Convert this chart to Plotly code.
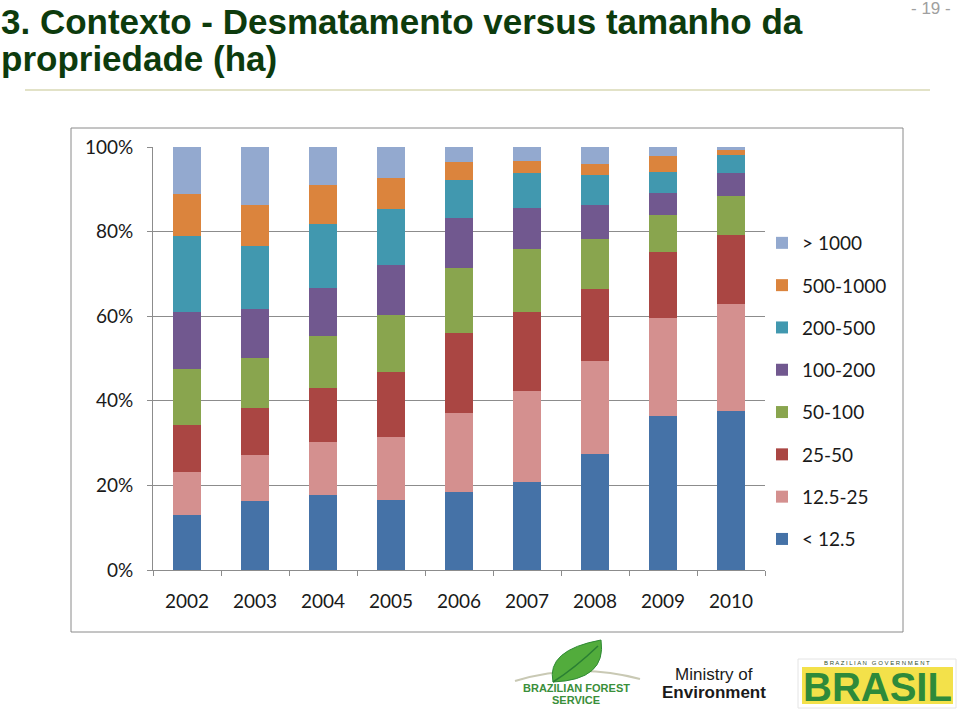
import plotly.graph_objects as go

years = ["2002", "2003", "2004", "2005", "2006", "2007", "2008", "2009", "2010"]
classes = ["< 12.5", "12.5-25", "25-50", "50-100", "100-200", "200-500", "500-1000", "> 1000"]

lt_12_5 = [13.0, 16.2, 17.7, 16.6, 18.5, 20.8, 27.4, 36.4, 37.5]
c12_5_25 = [10.1, 11.1, 12.6, 14.9, 18.7, 21.4, 22.0, 23.1, 25.5]
c25_50 = [11.2, 11.1, 12.8, 15.3, 18.8, 18.8, 17.0, 15.6, 16.1]
c50_100 = [13.3, 11.8, 12.3, 13.5, 15.5, 14.9, 11.8, 8.9, 9.2]
c100_200 = [13.5, 11.6, 11.3, 11.8, 11.6, 9.7, 8.2, 5.2, 5.5]
c200_500 = [17.9, 14.9, 15.0, 13.2, 9.2, 8.2, 7.1, 5.0, 4.3]
c500_1000 = [9.9, 9.7, 9.2, 7.3, 4.2, 2.8, 2.6, 3.7, 1.3]
gt_1000 = [11.1, 13.6, 9.1, 7.4, 3.5, 3.4, 3.9, 2.1, 0.6]

series = [lt_12_5, c12_5_25, c25_50, c50_100, c100_200, c200_500, c500_1000, gt_1000]
colors = ["#4572A7", "#D4908F", "#AA4643", "#89A54E", "#71588F", "#4198AF", "#DB843D", "#93A9CF"]

W, H = 960, 711


def px(x):
    return x / W


def py(y):
    return 1 - y / H


fig = go.Figure()
n = len(classes)
for i, (name, vals, col) in enumerate(zip(classes, series, colors)):
    fig.add_trace(go.Bar(
        x=years, y=vals, name=name, marker=dict(color=col, line=dict(width=0)),
        width=0.41, legendgroup=name, legendrank=1000 + (n - i) * 10,
    ))

grid = "#8c8c8c"
lab_font = "Lato, Open Sans, sans-serif"
tickfont = dict(family=lab_font, size=19, color="#1a1a1a")

fig.update_layout(
    width=W, height=H,
    margin=dict(l=0, r=0, t=0, b=0, autoexpand=False),
    paper_bgcolor="white", plot_bgcolor="white",
    barmode="stack",
    showlegend=True,
    legend=dict(
        x=px(762), y=py(224), xanchor="left", yanchor="top",
        traceorder="grouped", tracegroupgap=14.6,
        font=dict(family=lab_font, size=19, color="#1a1a1a"),
        bgcolor="rgba(0,0,0,0)",
    ),
    xaxis=dict(
        domain=[px(153), px(765)], type="category", automargin=False,
        showline=True, linecolor=grid, linewidth=1,
        ticks="outside", ticklen=5, tickcolor=grid, tickson="boundaries",
        tickfont=tickfont, showgrid=False, ticklabelstandoff=14,
    ),
    yaxis=dict(
        domain=[py(570), py(147)], range=[0, 100], dtick=20, ticksuffix="%",
        automargin=False,
        showline=True, linecolor=grid, linewidth=1,
        ticks="outside", ticklen=5, tickcolor=grid,
        showgrid=True, gridcolor=grid, gridwidth=1, zeroline=False,
        tickfont=tickfont, ticklabelstandoff=10,
    ),
)

shapes = []
# chart frame
shapes.append(dict(type="rect", xref="paper", yref="paper",
                   x0=px(71), x1=px(903), y0=py(632), y1=py(128),
                   line=dict(color="#8a8a8a", width=1), fillcolor="rgba(0,0,0,0)"))
# separator under title
shapes.append(dict(type="line", xref="paper", yref="paper",
                   x0=px(25), x1=px(930), y0=py(90), y1=py(90),
                   line=dict(color="#d8d8b4", width=1.5)))
# leaf logo (Brazilian Forest Service)
arc = "M {},{} Q {},{} {},{}".format(px(515), py(681), px(577), py(662), px(640), py(679))
shapes.append(dict(type="path", xref="paper", yref="paper", path=arc,
                   line=dict(color="#c9c9b4", width=2)))
leaf = "M {},{} Q {},{} {},{} Q {},{} {},{} Z".format(
    px(553), py(682), px(546), py(650), px(601), py(640),
    px(607), py(680), px(553), py(682))
shapes.append(dict(type="path", xref="paper", yref="paper", path=leaf,
                   fillcolor="#52ac3c", line=dict(color="#2f8a35", width=1)))
vein = "M {},{} Q {},{} {},{}".format(px(553), py(682), px(575), py(668), px(598), py(646))
shapes.append(dict(type="path", xref="paper", yref="paper", path=vein,
                   line=dict(color="#2a7f33", width=1.5)))
# BRASIL logo
shapes.append(dict(type="rect", xref="paper", yref="paper",
                   x0=px(798), x1=px(956), y0=py(708), y1=py(659),
                   fillcolor="white", line=dict(color="#e4e4e4", width=1)))
shapes.append(dict(type="rect", xref="paper", yref="paper",
                   x0=px(802), x1=px(953), y0=py(704), y1=py(667),
                   fillcolor="#f3e14a", line=dict(width=0)))

fig.update_layout(shapes=shapes)

ann = []
title_font = dict(family="Liberation Sans, Arial, sans-serif", size=35, color="#0d3b0d")
ann.append(dict(text="<b>3. Contexto - Desmatamento versus tamanho da</b>", x=px(-1), y=py(0),
                xref="paper", yref="paper", xanchor="left", yanchor="top",
                showarrow=False, font=title_font))
ann.append(dict(text="<b>propriedade (ha)</b>", x=px(-1), y=py(37),
                xref="paper", yref="paper", xanchor="left", yanchor="top",
                showarrow=False, font=title_font))
ann.append(dict(text="- 19 -", x=px(953), y=py(8), xref="paper", yref="paper",
                xanchor="right", yanchor="middle", showarrow=False,
                font=dict(family="Liberation Sans, Arial", size=17, color="#a0a0a0")))
ann.append(dict(text="<b>BRAZILIAN FOREST</b>", x=px(576), y=py(688), xref="paper", yref="paper",
                xanchor="center", yanchor="middle", showarrow=False,
                font=dict(family="Liberation Sans Narrow, Liberation Sans, Arial", size=11, color="#3a8f3a")))
ann.append(dict(text="<b>SERVICE</b>", x=px(576), y=py(700), xref="paper", yref="paper",
                xanchor="center", yanchor="middle", showarrow=False,
                font=dict(family="Liberation Sans Narrow, Liberation Sans, Arial", size=11, color="#3a8f3a")))
ann.append(dict(text="Ministry of", x=px(714), y=py(674), xref="paper", yref="paper",
                xanchor="center", yanchor="middle", showarrow=False,
                font=dict(family="Liberation Sans, Arial", size=17, color="#1a1a1a")))
ann.append(dict(text="<b>Environment</b>", x=px(714), y=py(692), xref="paper", yref="paper",
                xanchor="center", yanchor="middle", showarrow=False,
                font=dict(family="Liberation Sans, Arial", size=17, color="#1a1a1a")))
ann.append(dict(text="B R A Z I L I A N   G O V E R N M E N T", x=px(877), y=py(663), xref="paper", yref="paper",
                xanchor="center", yanchor="middle", showarrow=False,
                font=dict(family="Liberation Sans, Arial", size=6, color="#2f4f2f")))
ann.append(dict(text="<b>BRASIL</b>", x=px(877), y=py(687), xref="paper", yref="paper",
                xanchor="center", yanchor="middle", showarrow=False,
                font=dict(family="Liberation Sans, Arial", size=40, color="#2e8a3a")))
fig.update_layout(annotations=ann)

fig.write_html("out.html")
